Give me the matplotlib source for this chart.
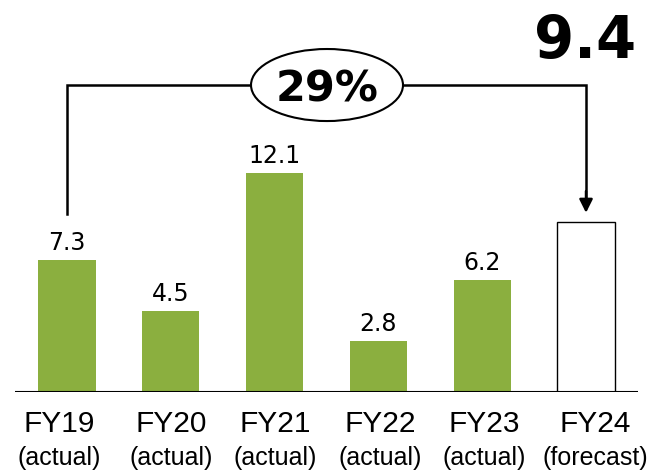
import matplotlib.pyplot as plt
from matplotlib.patches import Ellipse

years = ["FY19", "FY20", "FY21", "FY22", "FY23", "FY24"]
kinds = ["(actual)", "(actual)", "(actual)", "(actual)", "(actual)", "(forecast)"]
values = [7.3, 4.5, 12.1, 2.8, 6.2, 9.4]
growth = "29%"

green = "#8BAF3F"
n = len(values)
label_shift = [-8, 0, 1, 2, 2, 9]  # px nudges for the category text

fig = plt.figure(figsize=(6.51, 4.76), dpi=100)
ax = fig.add_axes([0, 84 / 476, 1, 392 / 476])
ax.set_xlim(-0.645, 5.626)
ax.set_ylim(0, 392 / 18.1)
ax.axis("off")

# actual years filled, forecast as an empty outline
for i, v in enumerate(values):
    if i < n - 1:
        ax.bar(i, v, width=0.55, color=green, zorder=2)
        ax.annotate(f"{v}", (i, v), xytext=(0, 10), textcoords="offset pixels",
                    ha="center", va="baseline", fontsize=17, family="DejaVu Sans")
    else:
        ax.bar(i, v, width=0.55, facecolor="white", edgecolor="black", lw=1.0, zorder=2)

ax.hlines(0, -0.5, 5.5, color="black", lw=1.5, zorder=3)

# category labels under the axis
for i, (yr, kd) in enumerate(zip(years, kinds)):
    dx = label_shift[i]
    ax.annotate(yr, (i, 0), xytext=(dx, -40), textcoords="offset pixels",
                ha="center", va="baseline", fontsize=21.5, family="Liberation Sans")
    ax.annotate(kd, (i, 0), xytext=(dx, -73), textcoords="offset pixels",
                ha="center", va="baseline", fontsize=18, family="Liberation Sans")

# growth bracket from first year to forecast
top = 16.96
start = values[0] + 2.55
tip = values[-1] + 0.5
ax.plot([0, 0, n - 1, n - 1], [start, top, top, tip + 0.6], color="black", lw=1.8,
        solid_joinstyle="miter", zorder=4)
ax.annotate("", xy=(n - 1, tip), xytext=(n - 1, tip + 1.2),
            arrowprops=dict(arrowstyle="-|>,head_length=0.8,head_width=0.4",
                            color="black", lw=1.8, shrinkA=0, shrinkB=0), zorder=4)

ax.add_patch(Ellipse((2.505, top), 1.464, 3.98, facecolor="white",
                     edgecolor="black", lw=1.5, zorder=5))
ax.annotate(growth, (2.505, top), xytext=(0, -16), textcoords="offset pixels",
            ha="center", va="baseline", fontsize=31, fontweight="bold",
            family="DejaVu Sans", zorder=6)

# forecast value shown large at top right
fig.text(636 / 651, 1 - 58 / 476, f"{values[-1]}", ha="right", va="baseline",
         fontsize=41.5, fontweight="bold", family="DejaVu Sans")

fig.savefig("out.png", dpi=100)
